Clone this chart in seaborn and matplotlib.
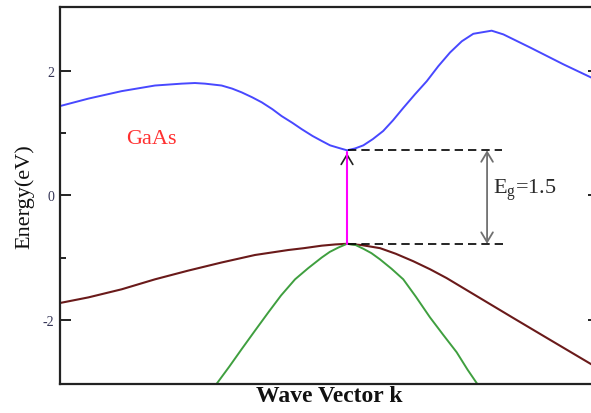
import numpy as np
import pandas as pd
import matplotlib
matplotlib.use("Agg")
import matplotlib.pyplot as plt
import seaborn as sns

# Band energies of GaAs along the wave vector (Gamma point at k = 0)
k_cb = [-1.0, -0.901, -0.785, -0.669, -0.576, -0.53, -0.495, -0.437, -0.40,
        -0.367, -0.33, -0.297, -0.26, -0.228, -0.19, -0.158, -0.12, -0.088,
        -0.059, -0.030, 0.0, 0.028, 0.057, 0.09, 0.126, 0.16, 0.196, 0.237,
        0.278, 0.318, 0.359, 0.40, 0.440, 0.504, 0.545, 0.638, 0.754, 0.850,
        0.878]
e_cb = [1.43, 1.55, 1.67, 1.76, 1.79, 1.80, 1.79, 1.76, 1.71,
        1.65, 1.57, 1.49, 1.38, 1.27, 1.16, 1.06, 0.95, 0.87,
        0.80, 0.76, 0.72, 0.75, 0.80, 0.90, 1.03, 1.20, 1.40, 1.62,
        1.83, 2.07, 2.29, 2.47, 2.59, 2.64, 2.58, 2.37, 2.10, 1.89,
        1.83]

k_hh = [-1.0, -0.901, -0.785, -0.669, -0.553, -0.437, -0.321, -0.205, -0.15,
        -0.088, -0.04, 0.0, 0.05, 0.115, 0.17, 0.231, 0.29, 0.347, 0.405,
        0.463, 0.579, 0.696, 0.850, 0.878]
e_hh = [-1.73, -1.64, -1.51, -1.35, -1.21, -1.08, -0.96, -0.88, -0.85,
        -0.81, -0.79, -0.78, -0.80, -0.85, -0.94, -1.06, -1.19, -1.33, -1.49,
        -1.65, -1.97, -2.29, -2.71, -2.79]

k_lh = [-0.458, -0.41, -0.367, -0.32, -0.274, -0.23, -0.181, -0.135, -0.088,
        -0.06, -0.030, 0.0, 0.03, 0.057, 0.085, 0.115, 0.155, 0.196, 0.24,
        0.289, 0.335, 0.382, 0.42, 0.457]
e_lh = [-3.05, -2.75, -2.47, -2.17, -1.88, -1.61, -1.35, -1.17, -1.00,
        -0.91, -0.84, -0.78, -0.80, -0.86, -0.93, -1.03, -1.18, -1.35, -1.63,
        -1.96, -2.24, -2.52, -2.80, -3.05]

cb_min = 0.72
vb_max = -0.78
gap_label = "1.5"
y_ticks = [-2, 0, 2]
y_minor = [-1, 1]

sns.set_style("ticks")
plt.rcParams["font.family"] = ["Liberation Serif", "DejaVu Serif"]
plt.rcParams["axes.unicode_minus"] = False

fig = plt.figure(figsize=(5.91, 4.14), dpi=100)
ax = fig.add_axes([60 / 591, 29 / 414, 539 / 591, 377 / 414])

cb = pd.DataFrame({"k": k_cb, "E": e_cb})
hh = pd.DataFrame({"k": k_hh, "E": e_hh})
lh = pd.DataFrame({"k": k_lh, "E": e_lh})

sns.lineplot(data=cb, x="k", y="E", ax=ax, color="#4848ff", lw=1.4, estimator=None, sort=False)
sns.lineplot(data=hh, x="k", y="E", ax=ax, color="#6a1a1a", lw=1.5, estimator=None, sort=False)
sns.lineplot(data=lh, x="k", y="E", ax=ax, color="#3f9f3f", lw=1.4, estimator=None, sort=False)

# direct transition at Gamma
ax.annotate("", xy=(0, cb_min), xytext=(0, cb_min - 0.2),
            arrowprops=dict(arrowstyle="->,head_length=0.5,head_width=0.3",
                            color="#222222", lw=1.2, mutation_scale=14), zorder=3)
ax.plot([0, 0], [vb_max, cb_min - 0.02], color="#ff00ff", lw=1.5, zorder=4)

# band edges and gap
x_arrow = 0.488
ax.plot([0.005, 0.540], [cb_min, cb_min], color="black", lw=1.2, ls=(0, (5, 3)))
ax.plot([0.005, 0.557], [vb_max, vb_max], color="black", lw=1.2, ls=(0, (5, 3)))
ax.annotate("", xy=(x_arrow, cb_min), xytext=(x_arrow, vb_max),
            arrowprops=dict(arrowstyle="<->,head_length=0.5,head_width=0.3",
                            color="#707070", lw=1.3, mutation_scale=14,
                            shrinkA=0, shrinkB=0))
ax.text(0.51, (cb_min + vb_max) / 2 + 0.13, r"$\mathregular{E_g}$=" + gap_label,
        fontsize=16, color="#2a2a2a", ha="left", va="center")

ax.text(-0.77, 0.91, "GaAs", fontsize=16, color="#ff3030", ha="left", va="center")

ax.set_xlim(-1.0, 0.878)
ax.set_ylim(-3.03, 3.02)
ax.set_xticks([])
ax.set_yticks(y_ticks)
ax.set_yticks(y_minor, minor=True)
ax.set_yticklabels([str(t) for t in y_ticks])
ax.tick_params(axis="y", which="major", direction="in", length=8, width=1.4,
               color="#222222", labelsize=10, labelcolor="#333355", pad=4,
               right=True)
ax.tick_params(axis="y", which="minor", direction="in", length=4.5, width=1.4,
               color="#222222", right=True)

for side in ["left", "right", "top", "bottom"]:
    ax.spines[side].set_visible(True)
    ax.spines[side].set_linewidth(1.6)
    ax.spines[side].set_color("#222222")

ax.set_ylabel("Energy(eV)", fontsize=16, labelpad=6, color="#111111")
ax.set_xlabel("Wave Vector k", fontsize=17, fontweight="bold", labelpad=1, color="#111111")

fig.savefig("out.png", dpi=100)
